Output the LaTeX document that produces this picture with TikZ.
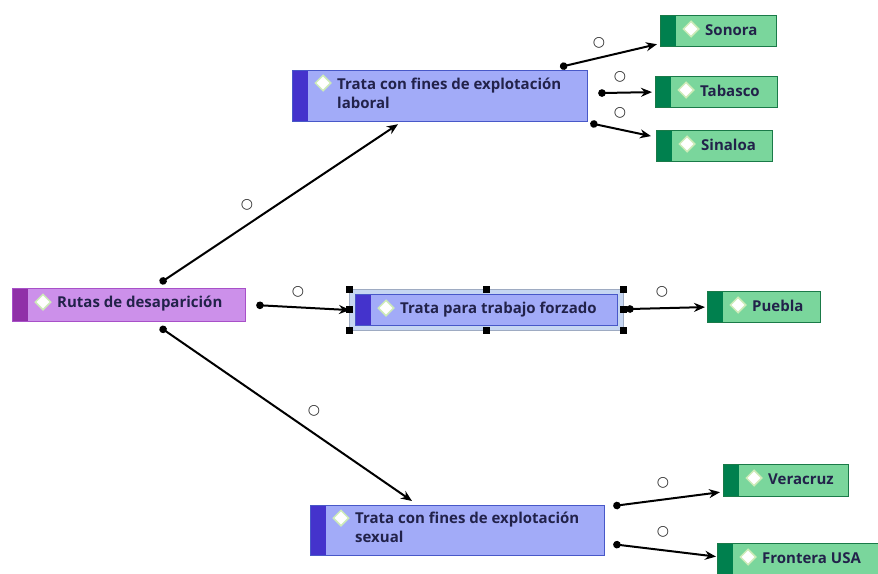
\documentclass[tikz,border=0pt]{standalone}
\usepackage{fontspec}
\setmainfont{Open Sans}
\newfontfamily\lblfont{Open Sans}
\newfontfamily\symfont{DejaVu Sans}
\usetikzlibrary{arrows.meta,shapes.geometric,calc,backgrounds}

\definecolor{purfill}{HTML}{CC90EA}
\definecolor{purstrip}{HTML}{9030A8}
\definecolor{purline}{HTML}{A850C8}
\definecolor{bluefill}{HTML}{A2ABF8}
\definecolor{bluestrip}{HTML}{4433CC}
\definecolor{blueline}{HTML}{4858C8}
\definecolor{grnfill}{HTML}{7AD69C}
\definecolor{grnstrip}{HTML}{00804E}
\definecolor{grnline}{HTML}{1A7A48}
\definecolor{gemedge}{HTML}{CDEBB8}
\definecolor{txt}{HTML}{22224A}
\definecolor{selfill}{HTML}{C6D6F2}

\tikzset{
  strip color/.code={\def\mmstrip{#1}},
  topic/.style={draw, line width=1.2pt, inner sep=0pt,
    path picture={\fill[\mmstrip] (path picture bounding box.north west)
      rectangle ([xshift=15pt]path picture bounding box.south west);}},
  purple topic/.style={fill=purfill, draw=purline, strip color=purstrip},
  blue topic/.style={fill=bluefill, draw=blueline, strip color=bluestrip},
  green topic/.style={fill=grnfill, draw=grnline, strip color=grnstrip},
  gem/.style={diamond, fill=white, draw=gemedge, line width=1.5pt,
    minimum width=16pt, minimum height=16pt, inner sep=0pt},
  lbl/.style={font=\lblfont\bfseries\fontsize{15}{19}\selectfont, text=txt,
    inner sep=0pt, align=left},
  conn/.style={line width=2pt, draw=black,
    {Circle[length=7.5pt]}-{Stealth[length=11pt,width=9pt]}},
  ring/.style={font=\symfont\bfseries\fontsize{14}{14}\selectfont, text=black!85,
    inner sep=0pt},
  selframe/.style={fill=selfill, draw=selfill!80!black, line width=0.4pt,
    inner sep=0pt},
  handle/.style={fill=black, minimum size=7pt, inner sep=0pt},
}

% box, marker and caption of one topic:
% name, colour style, x, y, width, height, marker offset from top,
% caption offset from the middle, caption
\newcommand\mmtopic[9]{%
  \node[topic,#2,minimum width=#5pt,minimum height=#6pt,anchor=north west]
    (#1) at (#3,#4) {};
  \node[gem] (#1-gem) at ($(#1.north west)+(31,#7)$) {};
  \node[lbl,anchor=west] (#1-txt) at ($(#1.west)+(45,#8)$) {#9};
}

\begin{document}
\begin{tikzpicture}[x=1pt,y=-1pt]
\useasboundingbox (0,0) rectangle (878,573);
\clip (0,0) rectangle (878,573);

% central topic and first level
\mmtopic{rutas}{purple topic}{12}{288}{233}{33}{14}{-1.5}{Rutas de desaparición}
\mmtopic{laboral}{blue topic}{292}{70}{295}{51}{13}{-3}{Trata con fines de explotación\\laboral}
\mmtopic{forzado}{blue topic}{355}{294}{262}{31}{14}{-1}{Trata para trabajo forzado}
\mmtopic{sexual}{blue topic}{310}{505}{294}{50}{13}{-3}{Trata con fines de explotación\\sexual}

% second level
\mmtopic{sonora}{green topic}{660}{15}{116}{31}{14}{-1}{Sonora}
\mmtopic{tabasco}{green topic}{655}{76}{122}{31}{14}{-1}{Tabasco}
\mmtopic{sinaloa}{green topic}{656}{130}{116}{31}{14}{-1}{Sinaloa}
\mmtopic{puebla}{green topic}{707}{291}{113}{31}{14}{-1}{Puebla}
\mmtopic{veracruz}{green topic}{723}{464}{125}{32}{14}{-1}{Veracruz}
\mmtopic{frontera}{green topic}{717}{543}{170}{31}{14}{-1}{Frontera USA}

% white page and selection frame behind the selected topic
\begin{scope}[on background layer]
  \fill[white] (0,0) rectangle (878,573);
  \node[selframe, minimum width=274pt, minimum height=41pt, anchor=north west]
    (sel) at (349,289) {};
\end{scope}
\foreach \p [count=\i] in {north west,north,north east,east,south east,south,south west,west}
  \node[handle] (h\i) at (sel.\p) {};

% relations
\draw[conn] ($(rutas.north west)+(148,-5)$) -- ($(laboral.south west)+(106,2)$);
\draw[conn] ($(rutas.east)+(10,0)$) -- ($(forzado.west)+(-5,0)$);
\draw[conn] ($(rutas.south west)+(148,5)$) -- ($(sexual.north west)+(102,-4)$);
\draw[conn] ($(laboral.north west)+(268,-3)$) -- ($(sonora.south west)+(-3,-3)$);
\draw[conn] ($(laboral.east)+(10,-3)$) -- ($(tabasco.west)+(-3,0)$);
\draw[conn] ($(laboral.south east)+(2,1)$) -- ($(sinaloa.west)+(-5,-10)$);
\draw[conn] ($(forzado.east)+(8,-1)$) -- ($(puebla.west)+(-2,0)$);
\draw[conn] ($(sexual.north east)+(8,1)$) -- ($(veracruz.south west)+(-3,-5)$);
\draw[conn] ($(sexual.south east)+(8,-12)$) -- ($(frontera.west)+(-1,-2.5)$);

% relation markers
\node[ring] (r1) at (247,205) {○};
\node[ring] (r2) at (298,292) {○};
\node[ring] (r3) at (314,411) {○};
\node[ring] (r4) at (599,43) {○};
\node[ring] (r5) at (620,77) {○};
\node[ring] (r6) at (620,113) {○};
\node[ring] (r7) at (662,292) {○};
\node[ring] (r8) at (663,483) {○};
\node[ring] (r9) at (663,532) {○};
\end{tikzpicture}
\end{document}
